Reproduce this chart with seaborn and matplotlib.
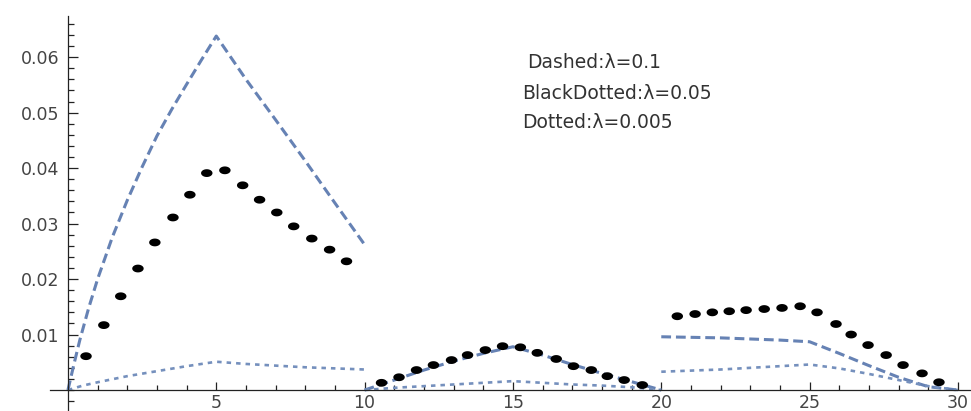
import matplotlib
matplotlib.use('Agg')
import matplotlib.pyplot as plt
from matplotlib.path import Path
from matplotlib.ticker import FixedLocator
import numpy as np
import pandas as pd
import seaborn as sns

# Dashed: lambda = 0.1 (three pieces)
dash_x1 = [0, 0.2, 0.4, 0.7, 1.0, 1.5, 2.0, 2.5, 3.0, 3.5, 4.0, 4.5, 5, 6, 7, 8, 9, 10]
dash_y1 = [0, 0.0046, 0.009, 0.0148, 0.02, 0.0276, 0.0342, 0.0402, 0.0458, 0.0506,
           0.0551, 0.0595, 0.0638, 0.056, 0.0487, 0.0413, 0.0337, 0.0262]
dash_x2 = [10, 11, 12, 13, 14, 15, 16, 17, 18, 19, 20]
dash_y2 = [0, 0.0018, 0.0036, 0.0052, 0.0066, 0.0078, 0.0063, 0.0046, 0.003, 0.0015, 0]
dash_x3 = [20, 21, 22, 23, 24, 25, 26, 27, 28, 29, 30]
dash_y3 = [0.0096, 0.0095, 0.0094, 0.0092, 0.009, 0.0087, 0.0066, 0.0044, 0.0023, 0.0006, 0]

# Dotted: lambda = 0.005
dot_x1 = [0, 0.5, 1, 2, 3, 4, 5, 6, 7, 8, 9, 10]
dot_y1 = [0, 0.0008, 0.0014, 0.0025, 0.0034, 0.0043, 0.0051, 0.0047, 0.0044, 0.0041, 0.0039, 0.0037]
dot_x2 = [10, 11, 12, 13, 14, 15, 16, 17, 18, 19, 20]
dot_y2 = [0, 0.0004, 0.0007, 0.001, 0.0013, 0.0016, 0.0013, 0.001, 0.0008, 0.0005, 0]
dot_x3 = [20, 21, 22, 23, 24, 25, 26, 27, 28, 29, 30]
dot_y3 = [0.0033, 0.0035, 0.0037, 0.004, 0.0043, 0.0046, 0.0039, 0.0029, 0.0018, 0.0007, 0]

# BlackDotted: lambda = 0.05
black_x = [0.61, 1.21, 1.78, 2.36, 2.93, 3.54, 4.11, 4.68, 5.29, 5.89, 6.46, 7.04, 7.61, 8.22, 8.82, 9.39,
           10.57, 11.16, 11.75, 12.32, 12.93, 13.47, 14.07, 14.65, 15.25, 15.82, 16.46, 17.04, 17.64, 18.18, 18.75, 19.36,
           20.54, 21.14, 21.72, 22.29, 22.86, 23.47, 24.07, 24.68, 25.25, 25.89, 26.4, 26.97, 27.58, 28.15, 28.79, 29.36]
black_y = [0.0061, 0.0117, 0.0169, 0.0219, 0.0266, 0.0311, 0.0352, 0.0391, 0.0396, 0.0369, 0.0343, 0.032, 0.0295, 0.0273, 0.0253, 0.0232,
           0.0013, 0.0023, 0.0036, 0.0045, 0.0054, 0.0063, 0.0072, 0.0079, 0.0077, 0.0067, 0.0056, 0.0043, 0.0036, 0.0025, 0.0018, 0.0009,
           0.0133, 0.0137, 0.014, 0.0142, 0.0144, 0.0146, 0.0148, 0.0151, 0.014, 0.0119, 0.01, 0.0081, 0.0063, 0.0045, 0.003, 0.0014]

x_major = [5, 10, 15, 20, 25, 30]
y_major = [0.01, 0.02, 0.03, 0.04, 0.05, 0.06]
y_labels = ['0.01', '0.02', '0.03', '0.04', '0.05', '0.06']
legend_lines = ['Dashed:λ=0.1', 'BlackDotted:λ=0.05', 'Dotted:λ=0.005']


def pieces(xs, ys):
    frames = [pd.DataFrame({'x': x, 'y': y, 'seg': i}) for i, (x, y) in enumerate(zip(xs, ys))]
    return pd.concat(frames, ignore_index=True)


df_dash = pieces([dash_x1, dash_x2, dash_x3], [dash_y1, dash_y2, dash_y3])
df_dot = pieces([dot_x1, dot_x2, dot_x3], [dot_y1, dot_y2, dot_y3])
df_black = pd.DataFrame({'x': black_x, 'y': black_y})

sns.set_theme(style='white')
plt.rcParams['font.family'] = ['DejaVu Sans']

fig = plt.figure(figsize=(9.71, 4.11), dpi=100)
ax = fig.add_axes([0, 0, 1, 1])

sns.lineplot(data=df_dash, x='x', y='y', units='seg', estimator=None, sort=False,
             color='#6682b4', linewidth=2.2, ax=ax)
for ln in ax.lines:
    ln.set_dashes([3.2, 1.6])
n = len(ax.lines)
sns.lineplot(data=df_dot, x='x', y='y', units='seg', estimator=None, sort=False,
             color='#7590bd', linewidth=1.9, ax=ax)
for ln in ax.lines[n:]:
    ln.set_dashes([1.7, 1.9])

# slightly flattened round dots
t = np.linspace(0, 2 * np.pi, 40)
ellipse = Path(np.column_stack([np.cos(t), 0.68 * np.sin(t)]), closed=True)
sns.scatterplot(data=df_black, x='x', y='y', marker=ellipse, s=68, color='black',
                edgecolor='none', ax=ax, zorder=5)

ax.set_xlim(-2.29, 30.44)
ax.set_ylim(-0.00378, 0.0703)
ax.set_xlabel('')
ax.set_ylabel('')

for side in ['top', 'right']:
    ax.spines[side].set_visible(False)
ax.spines['left'].set_position(('data', 0))
ax.spines['bottom'].set_position(('data', 0))
ax.spines['left'].set_bounds(-0.00378, 0.0675)
ax.spines['bottom'].set_bounds(-0.6, 30.44)
for side in ['left', 'bottom']:
    ax.spines[side].set_color('#222222')
    ax.spines[side].set_linewidth(0.9)

ax.set_xticks(x_major)
ax.set_xticklabels([str(v) for v in x_major])
ax.xaxis.set_minor_locator(FixedLocator(range(1, 31)))
ax.set_yticks(y_major)
ax.set_yticklabels(y_labels)
ax.yaxis.set_minor_locator(FixedLocator(np.arange(-0.002, 0.0665, 0.002)))

ax.tick_params(which='both', direction='in', color='#222222', width=0.9,
               left=True, bottom=True)
ax.tick_params(axis='y', which='major', length=7, pad=6, labelsize=12.5, labelcolor='#444444')
ax.tick_params(axis='y', which='minor', length=4)
ax.tick_params(axis='x', which='major', length=6, pad=2.5, labelsize=12.5, labelcolor='#444444')
ax.tick_params(axis='x', which='minor', length=3.5)

ax.text(527 / 971, 1 - 62 / 411, legend_lines[0], transform=ax.transAxes,
        ha='left', va='center', fontsize=13.5, color='#333333')
ax.text(522 / 971, 1 - 93 / 411, legend_lines[1], transform=ax.transAxes,
        ha='left', va='center', fontsize=13.5, color='#333333')
ax.text(522 / 971, 1 - 123 / 411, legend_lines[2], transform=ax.transAxes,
        ha='left', va='center', fontsize=13.5, color='#333333')

fig.savefig('out.png', dpi=100)
